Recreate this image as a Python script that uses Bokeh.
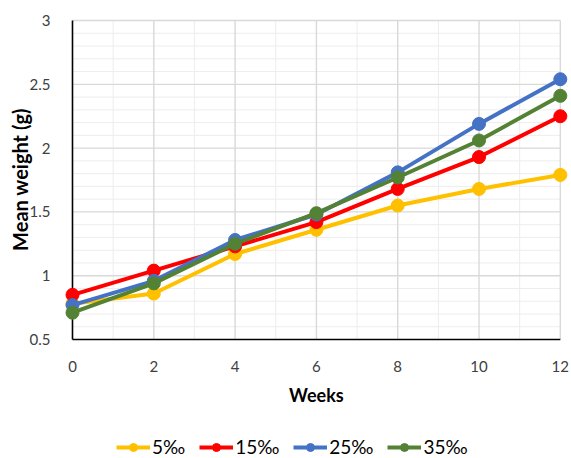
import math
from bokeh.plotting import figure
from bokeh.models import (Range1d, FixedTicker, NumeralTickFormatter, Legend, LegendItem,
                          Label)
from bokeh.embed import file_html
from bokeh.resources import INLINE

# Mean weight (g) by week for each salinity level
weeks = [0, 2, 4, 6, 8, 10, 12]
labels = ["5‰", "15‰", "25‰", "35‰"]
w_5 = [0.78, 0.86, 1.17, 1.36, 1.55, 1.68, 1.79]
w_15 = [0.85, 1.04, 1.23, 1.42, 1.68, 1.93, 2.25]
w_25 = [0.77, 0.96, 1.28, 1.48, 1.81, 2.19, 2.54]
w_35 = [0.71, 0.94, 1.25, 1.49, 1.77, 2.06, 2.41]
colors = ["#FFC000", "#FF0000", "#4472C4", "#548235"]

y_ticks = [0.5, 1.0, 1.5, 2.0, 2.5, 3.0]
x_ticks = [0, 2, 4, 6, 8, 10, 12]

FONT = "Lato"

# The frame fills the whole canvas; axes sit at fixed data locations so the
# markers at week 0 and week 12 are drawn in full over the axis lines.
p = figure(width=571, height=458, output_backend="svg", toolbar_location=None,
           x_range=Range1d(-1.771, 12.275), y_range=Range1d(-0.4326, 3.157),
           min_border=0)
p.outline_line_color = None
p.xgrid.visible = False
p.ygrid.visible = False

x0, x1 = x_ticks[0], x_ticks[-1]
y0, y1 = y_ticks[0], y_ticks[-1]

# minor grid (every 0.1 g / every week)
minor_y = [round(y0 + 0.1 * i, 2) for i in range(1, 25) if (i % 5) != 0]
minor_x = [x for x in range(x0 + 1, x1, 2)]
p.segment(x0=[x0] * len(minor_y), x1=[x1] * len(minor_y), y0=minor_y, y1=minor_y,
          line_color="#ededed", line_width=1)
p.segment(x0=minor_x, x1=minor_x, y0=[y0] * len(minor_x), y1=[y1] * len(minor_x),
          line_color="#ededed", line_width=1)
# major grid
maj_y = y_ticks[1:]
maj_x = x_ticks[1:]
p.segment(x0=[x0] * len(maj_y), x1=[x1] * len(maj_y), y0=maj_y, y1=maj_y,
          line_color="#d9d9d9", line_width=1.4)
p.segment(x0=maj_x, x1=maj_x, y0=[y0] * len(maj_x), y1=[y1] * len(maj_x),
          line_color="#d9d9d9", line_width=1.4)
# axis lines
p.segment(x0=[x0, x0], x1=[x0, x1], y0=[y0, y0], y1=[y1, y0],
          line_color="#000000", line_width=1.6)

items = []
for lab, vals, col in zip(labels, [w_5, w_15, w_25, w_35], colors):
    ln = p.line(weeks, vals, line_color=col, line_width=4)
    mk = p.scatter(weeks, vals, size=13, fill_color=col, line_color=col)
    items.append(LegendItem(label=lab, renderers=[ln, mk]))

p.xaxis.ticker = FixedTicker(ticks=x_ticks)
p.yaxis.ticker = FixedTicker(ticks=y_ticks)
p.yaxis.formatter = NumeralTickFormatter(format="0.[0]")
p.xaxis.fixed_location = y0
p.yaxis.fixed_location = x0
for ax in (p.xaxis, p.yaxis):
    ax.axis_line_color = None
    ax.major_tick_line_color = None
    ax.minor_tick_line_color = None
    ax.major_label_text_font = FONT
    ax.major_label_text_font_size = "15px"
    ax.major_label_text_color = "#404040"
p.xaxis.major_label_standoff = 15
p.yaxis.major_label_standoff = 16

# axis titles
p.add_layout(Label(x=6, y=0.069, text="Weeks", text_font=FONT, text_font_style="bold",
                   text_font_size="18px", text_align="center", text_baseline="middle",
                   text_color="#000000"))
p.add_layout(Label(x=-1.28, y=1.754, text="Mean weight (g)", angle=math.pi / 2,
                   text_font=FONT, text_font_style="bold", text_font_size="20px",
                   text_align="center", text_baseline="middle", text_color="#000000"))

legend = Legend(items=items, orientation="horizontal", location=(116, 0),
                glyph_width=34, glyph_height=20, label_standoff=2, spacing=14,
                padding=0, margin=0, border_line_color=None, background_fill_alpha=0,
                label_text_font=FONT, label_text_font_size="19px", label_text_color="#000000")
p.add_layout(legend, "center")

open("out.html", "w").write(file_html(p, INLINE))
